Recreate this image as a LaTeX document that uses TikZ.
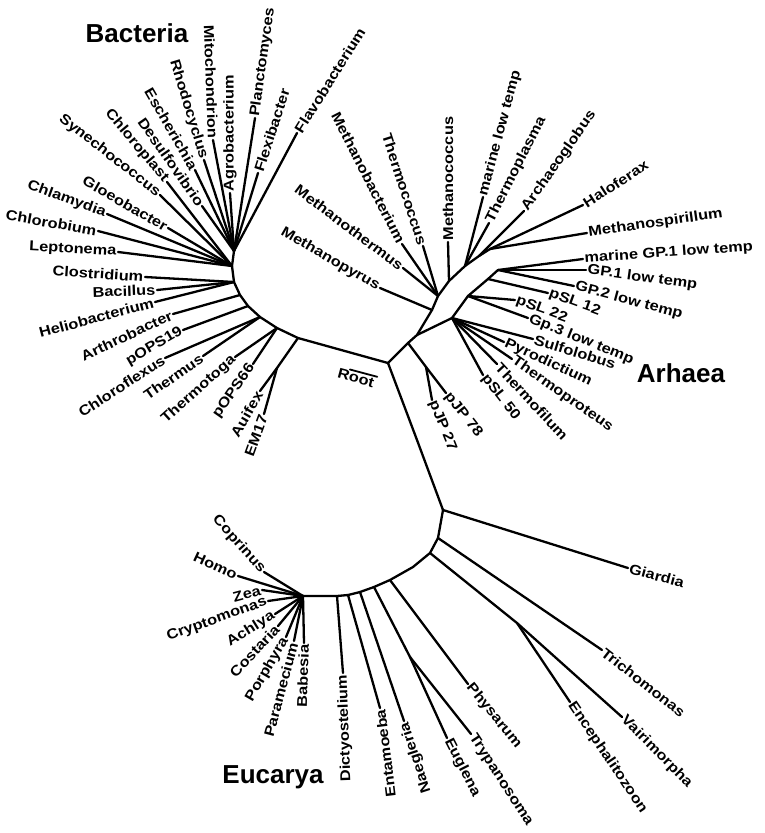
\documentclass[tikz,border=0pt]{standalone}
\usepackage{fontspec}
\setmainfont{Liberation Sans}
\newfontfamily\leaffont[FakeStretch=1.15]{Liberation Sans}
\usepackage{tikz}
\usetikzlibrary{calc}

\begin{document}
\begin{tikzpicture}[
    x=1pt, y=-1pt,
    branch/.style={line width=2.3pt, line cap=round, line join=round},
    leaf/.style={font=\leaffont\bfseries\fontsize{14.2}{15}\selectfont, inner sep=1.5pt},
    kingdom/.style={font=\bfseries\fontsize{26}{28}\selectfont, inner sep=0pt}
]
    \useasboundingbox (0,0) rectangle (764,833);

    % Inner points
    \coordinate (root) at (388,363);
    \coordinate (h1) at (234,251);
    \coordinate (h2) at (232,266);
    \coordinate (h3) at (234,282);
    \coordinate (a2) at (240,295);
    \coordinate (a3) at (248,306);
    \coordinate (a4) at (260,317);
    \coordinate (a5) at (277,328);
    \coordinate (a6) at (298,338);
    \coordinate (em0) at (277,368);

    \coordinate (ar0) at (417,335);
    \coordinate (pj0) at (408,343);
    \coordinate (pjf) at (426,367);
    \coordinate (ea1) at (432,310);
    \coordinate (ea2) at (438,296);
    \coordinate (ea3) at (449,281);
    \coordinate (ea4) at (465,266);
    \coordinate (ea5) at (479,256);
    \coordinate (ea6) at (490,249);
    \coordinate (cr1) at (452,318);
    \coordinate (cr2) at (468,296);
    \coordinate (cr3) at (488,279);
    \coordinate (cr4) at (498,270);

    \coordinate (ek1) at (417,440);
    \coordinate (g0) at (443,510);
    \coordinate (t0) at (438,538);
    \coordinate (v0) at (430,553);
    \coordinate (q1) at (413,567);
    \coordinate (ph0) at (390,580);
    \coordinate (eg0) at (374,587);
    \coordinate (na0) at (360,592);
    \coordinate (en0) at (348,595);
    \coordinate (di0) at (337,596);
    \coordinate (cw) at (303,596);
    \coordinate (vf) at (517,623);
    \coordinate (ef) at (410,657);

    % Backbone
    \draw[branch] (h1) -- (h2) -- (h3) -- (a2) -- (a3) -- (a4) -- (a5) -- (a6) -- (root);
    \draw[branch] (root) -- (pj0) -- (ar0);
    \draw[branch] (ar0) -- (ea1) -- (ea2) -- (ea3) -- (ea4) -- (ea5) -- (ea6);
    \draw[branch] (ar0) -- (cr1) -- (cr2) -- (cr3) -- (cr4);
    \draw[branch] (root) -- (ek1) -- (g0);
    \draw[branch] (g0) -- (t0) -- (v0) -- (q1) -- (ph0) -- (eg0) -- (na0) -- (en0) -- (di0) -- (cw);
    \draw[branch] (a6) -- (em0);
    \draw[branch] (pj0) -- (pjf);
    \draw[branch] (v0) -- (vf);
    \draw[branch] (eg0) -- (ef);

    % Bacteria
    \node[leaf, anchor=east, rotate=-3] (leptonema) at (118,252) {Leptonema};
    \node[leaf, anchor=east, rotate=-10] (chlorobium) at (98,231) {Chlorobium};
    \node[leaf, anchor=east, rotate=-20] (chlamydia) at (107,214) {Chlamydia};
    \node[leaf, anchor=east, rotate=-30] (gloeobacter) at (168,228) {Gloeobacter};
    \node[leaf, anchor=east, rotate=-38] (synechococcus) at (160,195) {Synechococcus};
    \node[leaf, anchor=east, rotate=-50] (chloroplast) at (167,182) {Chloroplast};
    \node[leaf, anchor=east, rotate=-55] (desulfovibrio) at (202,206) {Desulfovibrio};
    \node[leaf, anchor=east, rotate=-60] (escherichia) at (195,170) {Escherichia};
    \node[leaf, anchor=east, rotate=-73] (rhodocyclus) at (204,160) {Rhodocyclus};
    \node[leaf, anchor=east, rotate=-88] (mitochondrion) at (213,140) {Mitochondrion};
    \node[leaf, anchor=west, rotate=90] (agrobacterium) at (230,193) {Agrobacterium};
    \node[leaf, anchor=west, rotate=82] (planctomyces) at (255,118) {Planctomyces};
    \node[leaf, anchor=west, rotate=72] (flexibacter) at (258,173) {Flexibacter};
    \node[leaf, anchor=west, rotate=58] (flavobacterium) at (297,133) {Flavobacterium};
    \node[leaf, anchor=east, rotate=-4] (clostridium) at (145,277) {Clostridium};
    \node[leaf, anchor=east, rotate=2] (bacillus) at (157,290) {Bacillus};
    \node[leaf, anchor=east, rotate=15] (heliobacterium) at (155,302) {Heliobacterium};
    \node[leaf, anchor=east, rotate=25] (arthrobacter) at (173,314) {Arthrobacter};
    \node[leaf, anchor=east, rotate=30] (pops19) at (183,330) {pOPS19};
    \node[leaf, anchor=east, rotate=33] (chloroflexus) at (165,358) {Chloroflexus};
    \node[leaf, anchor=east, rotate=35] (thermus) at (203,356) {Thermus};
    \node[leaf, anchor=east, rotate=42] (thermotoga) at (235,357) {Thermotoga};
    \node[leaf, anchor=east, rotate=55] (pops66) at (253,364) {pOPS66};
    \node[leaf, anchor=east, rotate=60] (auifex) at (260,391) {Auifex};
    \node[leaf, anchor=east, rotate=70] (em17) at (264,414) {EM17};

    \draw[branch] (h2) -- (leptonema.east);
    \draw[branch] (h2) -- (chlorobium.east);
    \draw[branch] (h2) -- (chlamydia.east);
    \draw[branch] (h2) -- (gloeobacter.east);
    \draw[branch] (h2) -- (synechococcus.east);
    \draw[branch] (h2) -- (chloroplast.east);
    \draw[branch] (h1) -- (desulfovibrio.east);
    \draw[branch] (h1) -- (escherichia.east);
    \draw[branch] (h1) -- (rhodocyclus.east);
    \draw[branch] (h1) -- (mitochondrion.east);
    \draw[branch] (h1) -- (agrobacterium.west);
    \draw[branch] (h1) -- (planctomyces.west);
    \draw[branch] (h1) -- (flexibacter.west);
    \draw[branch] (h1) -- (flavobacterium.west);
    \draw[branch] (h3) -- (clostridium.east);
    \draw[branch] (h3) -- (bacillus.east);
    \draw[branch] (h3) -- (heliobacterium.east);
    \draw[branch] (a2) -- (arthrobacter.east);
    \draw[branch] (a3) -- (pops19.east);
    \draw[branch] (a4) -- (chloroflexus.east);
    \draw[branch] (a4) -- (thermus.east);
    \draw[branch] (a5) -- (thermotoga.east);
    \draw[branch] (a5) -- (pops66.east);
    \draw[branch] (em0) -- (auifex.east);
    \draw[branch] (em0) -- (em17.east);

    % Archaea
    \node[leaf, anchor=east, rotate=-30] (methanopyrus) at (380,288) {Methanopyrus};
    \node[leaf, anchor=east, rotate=-37] (methanothermus) at (403,268) {Methanothermus};
    \node[leaf, anchor=east, rotate=-63] (methanobacterium) at (402,244) {Methanobacterium};
    \node[leaf, anchor=east, rotate=-72] (thermococcus) at (423,246) {Thermococcus};
    \node[leaf, anchor=west, rotate=90] (methanococcus) at (448,242) {Methanococcus};
    \node[leaf, anchor=west, rotate=75] (marinelow) at (483,197) {marine low temp};
    \node[leaf, anchor=west, rotate=63] (thermoplasma) at (489,223) {Thermoplasma};
    \node[leaf, anchor=west, rotate=55] (archaeoglobus) at (524,211) {Archaeoglobus};
    \node[leaf, anchor=west, rotate=33] (haloferax) at (583,205) {Haloferax};
    \node[leaf, anchor=west, rotate=8] (methanospirillum) at (587,233) {Methanospirillum};
    \node[leaf, anchor=west, rotate=4] (marinegp1) at (583,259) {marine GP.1 low temp};
    \node[leaf, anchor=west, rotate=-8] (gp1) at (586,270) {GP.1 low temp};
    \node[leaf, anchor=west, rotate=-15] (gp2) at (574,286) {GP.2 low temp};
    \node[leaf, anchor=west, rotate=-20] (psl12) at (548,293) {pSL 12};
    \node[leaf, anchor=west, rotate=-20] (psl22) at (515,300) {pSL 22};
    \node[leaf, anchor=west, rotate=-22] (gp3) at (528,318) {Gp.3 low temp};
    \node[leaf, anchor=west, rotate=-17] (sulfolobus) at (533,339) {Sulfolobus};
    \node[leaf, anchor=west, rotate=-25] (pyrodictium) at (504,342) {Pyrodictium};
    \node[leaf, anchor=west, rotate=-35] (thermoproteus) at (512,359) {Thermoproteus};
    \node[leaf, anchor=west, rotate=-47] (thermofilum) at (497,364) {Thermofilum};
    \node[leaf, anchor=west, rotate=-52] (psl50) at (483,375) {pSL 50};
    \node[leaf, anchor=west, rotate=-52] (pjp78) at (446,393) {pJP 78};
    \node[leaf, anchor=west, rotate=-68] (pjp27) at (432,400) {pJP 27};

    \draw[branch] (ea1) -- (methanopyrus.east);
    \draw[branch] (ea2) -- (methanothermus.east);
    \draw[branch] (ea2) -- (methanobacterium.east);
    \draw[branch] (ea2) -- (thermococcus.east);
    \draw[branch] (ea3) -- (methanococcus.west);
    \draw[branch] (ea4) -- (marinelow.west);
    \draw[branch] (ea4) -- (thermoplasma.west);
    \draw[branch] (ea5) -- (archaeoglobus.west);
    \draw[branch] (ea6) -- (haloferax.west);
    \draw[branch] (ea6) -- (methanospirillum.west);
    \draw[branch] (cr4) -- (marinegp1.west);
    \draw[branch] (cr4) -- (gp1.west);
    \draw[branch] (cr4) -- (gp2.west);
    \draw[branch] (cr3) -- (psl12.west);
    \draw[branch] (cr2) -- (psl22.west);
    \draw[branch] (cr2) -- (gp3.west);
    \draw[branch] (cr1) -- (sulfolobus.west);
    \draw[branch] (cr1) -- (pyrodictium.west);
    \draw[branch] (cr1) -- (thermoproteus.west);
    \draw[branch] (cr1) -- (thermofilum.west);
    \draw[branch] (cr1) -- (psl50.west);
    \draw[branch] (pjf) -- (pjp78.west);
    \draw[branch] (pjf) -- (pjp27.west);

    % Eucarya
    \node[leaf, anchor=west, rotate=-15] (giardia) at (628,568) {Giardia};
    \node[leaf, anchor=west, rotate=-38] (trichomonas) at (602,650) {Trichomonas};
    \node[leaf, anchor=west, rotate=-45] (vairimorpha) at (622,717) {Vairimorpha};
    \node[leaf, anchor=west, rotate=-56] (encephalitozoon) at (570,702) {Encephalitozoon};
    \node[leaf, anchor=west, rotate=-51] (physarum) at (468,684) {Physarum};
    \node[leaf, anchor=west, rotate=-63] (euglena) at (447,738) {Euglena};
    \node[leaf, anchor=west, rotate=-57] (trypanosoma) at (471,734) {Trypanosoma};
    \node[leaf, anchor=east, rotate=108] (naegleria) at (404,721) {Naegleria};
    \node[leaf, anchor=east, rotate=97] (entamoeba) at (380,708) {Entamoeba};
    \node[leaf, anchor=east, rotate=92] (dictyostelium) at (343,673) {Dictyostelium};
    \node[leaf, anchor=east, rotate=-48] (coprinus) at (264,572) {Coprinus};
    \node[leaf, anchor=east, rotate=-25] (homo) at (238,576) {Homo};
    \node[leaf, anchor=east, rotate=15] (zea) at (262,590) {Zea};
    \node[leaf, anchor=east, rotate=20] (cryptomonas) at (268,601) {Cryptomonas};
    \node[leaf, anchor=east, rotate=32] (achlya) at (275,614) {Achlya};
    \node[leaf, anchor=east, rotate=47] (costaria) at (278,626) {Costaria};
    \node[leaf, anchor=east, rotate=60] (porphyra) at (286,637) {Porphyra};
    \node[leaf, anchor=east, rotate=75] (paramecium) at (294,641) {Paramecium};
    \node[leaf, anchor=east, rotate=88] (babesia) at (304,643) {Babesia};

    \draw[branch] (g0) -- (giardia.west);
    \draw[branch] (t0) -- (trichomonas.west);
    \draw[branch] (vf) -- (vairimorpha.west);
    \draw[branch] (vf) -- (encephalitozoon.west);
    \draw[branch] (ph0) -- (physarum.west);
    \draw[branch] (ef) -- (euglena.west);
    \draw[branch] (ef) -- (trypanosoma.west);
    \draw[branch] (na0) -- (naegleria.east);
    \draw[branch] (en0) -- (entamoeba.east);
    \draw[branch] (di0) -- (dictyostelium.east);
    \draw[branch] (cw) -- (coprinus.east);
    \draw[branch] (cw) -- (homo.east);
    \draw[branch] (cw) -- (zea.east);
    \draw[branch] (cw) -- (cryptomonas.east);
    \draw[branch] (cw) -- (achlya.east);
    \draw[branch] (cw) -- (costaria.east);
    \draw[branch] (cw) -- (porphyra.east);
    \draw[branch] (cw) -- (paramecium.east);
    \draw[branch] (cw) -- (babesia.east);

    % Root mark
    \node[leaf, rotate=-15] (rootlab) at (356,378) {Root};
    \draw[branch, line width=1.8pt] ($(rootlab.north west)!0.3!(rootlab.north east)$) -- (rootlab.north east);

    % Kingdoms
    \node[kingdom] (bacteria) at (137,33) {Bacteria};
    \node[kingdom] (arhaea) at (681,373) {Arhaea};
    \node[kingdom] (eucarya) at (273,777) {Eucarya};
\end{tikzpicture}
\end{document}
